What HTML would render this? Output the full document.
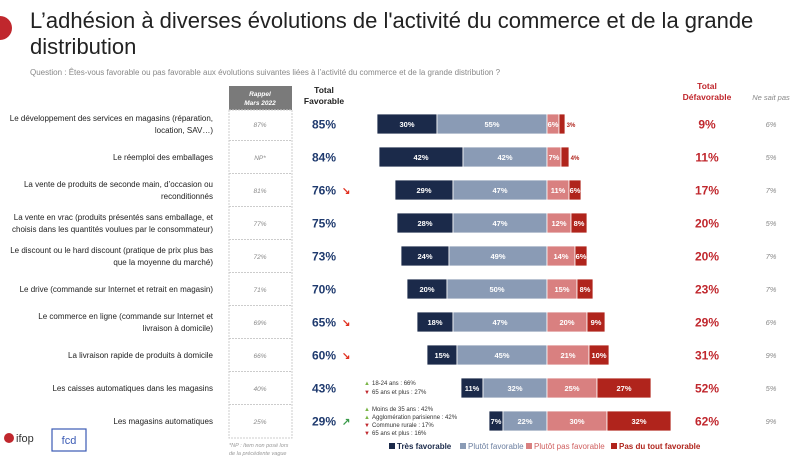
<!DOCTYPE html>
<html><head><meta charset="utf-8">
<style>
body{margin:0;width:800px;height:456px;background:#fff;overflow:hidden;font-family:"Liberation Sans",sans-serif;}
svg text{font-family:"Liberation Sans",sans-serif;}
</style></head>
<body>
<svg id="chart" width="800" height="456">
<circle cx="0" cy="28" r="12" fill="#c0272d"/>
<text x="30" y="28" font-size="22" fill="#222">L’adhésion à diverses évolutions de l'activité du commerce et de la grande</text>
<text x="30" y="54" font-size="22" fill="#222">distribution</text>
<text x="30" y="75" font-size="8" fill="#888">Question : Êtes-vous favorable ou pas favorable aux évolutions suivantes liées à l’activité du commerce et de la grande distribution ?</text>
<rect x="229" y="86" width="63" height="24" fill="#7a7a7a"/>
<text x="260" y="96" font-size="6.5" fill="#fff" font-style="italic" font-weight="bold" text-anchor="middle">Rappel</text>
<text x="260" y="105" font-size="6.5" fill="#fff" font-style="italic" font-weight="bold" text-anchor="middle">Mars 2022</text>
<rect x="229" y="110" width="63" height="328" fill="none" stroke="#ccc" stroke-dasharray="2,1"/>
<text x="324" y="93" font-size="8.5" font-weight="bold" fill="#222" text-anchor="middle">Total</text>
<text x="324" y="104" font-size="8.5" font-weight="bold" fill="#222" text-anchor="middle">Favorable</text>
<text x="707" y="89" font-size="8.5" font-weight="bold" fill="#c0272d" text-anchor="middle">Total</text>
<text x="707" y="100" font-size="8.5" font-weight="bold" fill="#c0272d" text-anchor="middle">Défavorable</text>
<text x="771" y="100" font-size="7.5" font-style="italic" fill="#888" text-anchor="middle">Ne sait pas</text>
<g id="rows"></g>
<g font-size="6" fill="#333">
<text x="372" y="385">18-24 ans : 66%</text><text x="372" y="394">65 ans et plus : 27%</text>
<text x="372" y="411">Moins de 35 ans : 42%</text><text x="372" y="419">Agglomération parisienne : 42%</text>
<text x="372" y="427">Commune rurale : 17%</text><text x="372" y="435">65 ans et plus : 16%</text>
<text x="364" y="385" fill="#7ab648">▲</text><text x="364" y="394" fill="#c0272d">▼</text>
<text x="364" y="411" fill="#7ab648">▲</text><text x="364" y="419" fill="#7ab648">▲</text>
<text x="364" y="427" fill="#c0272d">▼</text><text x="364" y="435" fill="#c0272d">▼</text>
</g>
<g font-size="8" font-weight="bold">
<rect x="389" y="443" width="6" height="6" fill="#1b2a4a"/><text x="397" y="449" fill="#1b2a4a">Très favorable</text>
<rect x="460" y="443" width="6" height="6" fill="#8a9bb5"/><text x="468" y="449" fill="#6c7fa0" font-weight="normal">Plutôt favorable</text>
<rect x="526" y="443" width="6" height="6" fill="#d98080"/><text x="534" y="449" fill="#d06060" font-weight="normal">Plutôt pas favorable</text>
<rect x="611" y="443" width="6" height="6" fill="#b0241c"/><text x="619" y="449" fill="#b0241c">Pas du tout favorable</text>
</g>
<text x="229" y="447" font-size="5.5" font-style="italic" fill="#999">*NP : Item non posé lors</text>
<text x="229" y="455" font-size="5.5" font-style="italic" fill="#999">de la précédente vague</text>
<circle cx="9" cy="438" r="5" fill="#c0272d"/>
<text x="16" y="442" font-size="11" fill="#333">ifop</text>
<rect x="52" y="429" width="34" height="22" fill="none" stroke="#3b5bb5" stroke-width="1.2"/>
<text x="69" y="444" font-size="11" fill="#3b5bb5" text-anchor="middle">fcd</text>
</svg>
<script>
const labels=[["Le développement des services en magasins (réparation,","location, SAV…)"],["Le réemploi des emballages"],["La vente de produits de seconde main, d’occasion ou","reconditionnés"],["La vente en vrac (produits présentés sans emballage, et","choisis dans les quantités voulues par le consommateur)"],["Le discount ou le hard discount (pratique de prix plus bas","que la moyenne du marché)"],["Le drive (commande sur Internet et retrait en magasin)"],["Le commerce en ligne (commande sur Internet et","livraison à domicile)"],["La livraison rapide de produits à domicile"],["Les caisses automatiques dans les magasins"],["Les magasins automatiques"]];
const rappel=["87%","NP*","81%","77%","72%","71%","69%","66%","40%","25%"];
const tresFav=[30,42,29,28,24,20,18,15,11,7];
const plutotFav=[55,42,47,47,49,50,47,45,32,22];
const plutotPas=[6,7,11,12,14,15,20,21,25,30];
const pasDuTout=[3,4,6,8,6,8,9,10,27,32];
const totalFav=[85,84,76,75,73,70,65,60,43,29];
const totalDefav=[9,11,17,20,20,23,29,31,52,62];
const nsp=[6,5,7,5,7,7,6,9,5,9];
const arrows=[0,0,-1,0,0,0,-1,-1,0,1];
const NS="http://www.w3.org/2000/svg";
const center=547, scale=2.0;
const xPos=v=>center+v*scale;
const yRow=i=>124+i*33.0;
const g=document.getElementById('rows');
function mk(tag,attrs,txt){const e=document.createElementNS(NS,tag);for(const k in attrs)e.setAttribute(k,attrs[k]);if(txt!==undefined)e.textContent=txt;g.appendChild(e);return e;}
for(let i=0;i<labels.length;i++){
 const y=yRow(i);
 const L=labels[i];
 L.forEach((t,j)=>{const e=mk('text',{x:213,y:y+3+(j-(L.length-1)/2)*12,'font-size':8,fill:'#222','text-anchor':'end'},t);
 
 });
 if(i>0){const ln=mk('line',{x1:229,x2:292,y1:y-16.5,y2:y-16.5,stroke:'#ccc','stroke-dasharray':'2,1'});
 
 }
 const r=mk('text',{x:260,y:y+3,'font-size':6.5,'font-style':'italic',fill:'#888','text-anchor':'middle'},rappel[i]);
 
 
 const tf=mk('text',{x:324,y:y+4.5,'font-size':12,'font-weight':'bold',fill:'#1f3a6e','text-anchor':'middle'},totalFav[i]+'%');
 
 
 if(arrows[i]){const a=mk('text',{x:342,y:y+4,'font-size':10,'font-weight':'bold',fill:arrows[i]<0?'#e03020':'#3a9a4a'},arrows[i]<0?'↘':'↗');
 
 }
 const segs=[[-(tresFav[i]+plutotFav[i]),tresFav[i],'#1b2a4a'],[-plutotFav[i],plutotFav[i],'#8a9bb5'],[0,plutotPas[i],'#d98080'],[plutotPas[i],pasDuTout[i],'#b0241c']];
 segs.forEach(s=>{const x0=xPos(s[0]),w=s[1]*scale;
  const b=mk('rect',{x:x0,y:y-10,width:w,height:20,fill:s[2],stroke:'#fff','stroke-width':0.8});
  
  
  const t=mk('text',{x:x0+w/2,y:y+3,'font-size':s[1]<6?6:7.5,'font-weight':'bold',fill:'#fff','text-anchor':'middle'},s[1]+'%');
  if(s[1]<6&&s[2]=='#b0241c'){t.setAttribute('x',x0+w+6);t.setAttribute('fill','#b0241c');}
  
  });
 const td=mk('text',{x:707,y:y+4.5,'font-size':12,'font-weight':'bold',fill:'#c0272d','text-anchor':'middle'},totalDefav[i]+'%');
 
 
 const n=mk('text',{x:771,y:y+3,'font-size':7.5,'font-style':'italic',fill:'#888','text-anchor':'middle'},nsp[i]+'%');
 
 
}
</script>
</body></html>
